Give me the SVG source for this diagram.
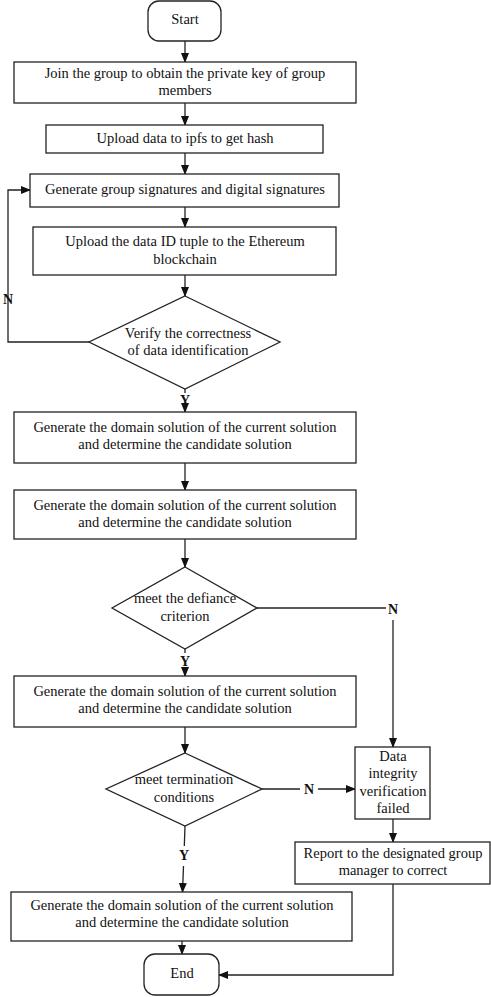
<svg xmlns="http://www.w3.org/2000/svg" width="491" height="997" viewBox="0 0 491 997">
<style>
.n{fill:#fff;stroke:#222;stroke-width:1.3}
.c{fill:none;stroke:#222;stroke-width:1.3}
text{font-family:'Liberation Serif','DejaVu Serif',serif;font-size:14.5px;fill:#111;text-anchor:middle}
.lb{font-weight:bold;font-size:14px}
</style>
<defs>
<marker id="a" markerWidth="10" markerHeight="8" refX="9" refY="4" orient="auto" markerUnits="userSpaceOnUse">
<path d="M0,0 L10,4 L0,8 z" fill="#111"/>
</marker>
</defs>
<rect width="491" height="997" fill="#fff"/>
<g id="connectors">
<path class="c" d="M185,41 V62" marker-end="url(#a)"/>
<path class="c" d="M185,103 V125" marker-end="url(#a)"/>
<path class="c" d="M185,153 V174" marker-end="url(#a)"/>
<path class="c" d="M185,207 V227" marker-end="url(#a)"/>
<path class="c" d="M185,275 V296" marker-end="url(#a)"/>
<path class="c" d="M89,342 H8 V190 H30" marker-end="url(#a)"/>
<path class="c" d="M185,389 V393 M185,407 V412" marker-end="url(#a)"/>
<path class="c" d="M185,463 V490" marker-end="url(#a)"/>
<path class="c" d="M185,539 V567" marker-end="url(#a)"/>
<path class="c" d="M257,608 H386"/>
<path class="c" d="M393,620 V747" marker-end="url(#a)"/>
<path class="c" d="M185,649 V653 M185,670 V676" marker-end="url(#a)"/>
<path class="c" d="M185,727 V753" marker-end="url(#a)"/>
<path class="c" d="M262,789 H300 M318,789 H355" marker-end="url(#a)"/>
<path class="c" d="M393,819 V842" marker-end="url(#a)"/>
<path class="c" d="M393,884 V975 H219" marker-end="url(#a)"/>
<path class="c" d="M185,826 L184.3,846 M183.5,866 L182.5,892" marker-end="url(#a)"/>
<path class="c" d="M182,941 V954" marker-end="url(#a)"/>
<text class="lb" x="8" y="304">N</text>
<text class="lb" x="185" y="405">Y</text>
<text class="lb" x="393" y="614">N</text>
<text class="lb" x="185" y="666">Y</text>
<text class="lb" x="309" y="794">N</text>
<text class="lb" x="184" y="860">Y</text>
</g>
<g id="start"><rect class="n" x="148" y="1" width="73" height="40" rx="11"/><text x="185" y="24">Start</text></g>
<g id="join"><rect class="n" x="14" y="62" width="342" height="41"/><text x="185" y="78">Join the group to obtain the private key of group</text><text x="185" y="95">members</text></g>
<g id="upload"><rect class="n" x="46" y="125" width="277" height="28"/><text x="185" y="143">Upload data to ipfs to get hash</text></g>
<g id="gensig"><rect class="n" x="30" y="174" width="309" height="33"/><text x="185" y="194">Generate group signatures and digital signatures</text></g>
<g id="uploadid"><rect class="n" x="33" y="227" width="303" height="48"/><text x="185" y="246">Upload the data ID tuple to the Ethereum</text><text x="185" y="264">blockchain</text></g>
<g id="verify"><path class="n" d="M185,296 L280,342 L185,389 L89,342 Z"/><text x="188" y="338">Verify the correctness</text><text x="188" y="355">of data identification</text></g>
<g id="gen1"><rect class="n" x="14" y="412" width="342" height="51"/><text x="185" y="432">Generate the domain solution of the current solution</text><text x="185" y="449">and determine the candidate solution</text></g>
<g id="gen2"><rect class="n" x="14" y="490" width="342" height="49"/><text x="185" y="510">Generate the domain solution of the current solution</text><text x="185" y="527">and determine the candidate solution</text></g>
<g id="defiance"><path class="n" d="M185,567 L257,608 L185,649 L112,608 Z"/><text x="185" y="603">meet the defiance</text><text x="185" y="621">criterion</text></g>
<g id="gen3"><rect class="n" x="14" y="676" width="342" height="51"/><text x="185" y="696">Generate the domain solution of the current solution</text><text x="185" y="713">and determine the candidate solution</text></g>
<g id="termination"><path class="n" d="M185,753 L262,789 L185,826 L106,789 Z"/><text x="184" y="784">meet termination</text><text x="184" y="802">conditions</text></g>
<g id="failed"><rect class="n" x="355" y="747" width="75" height="72"/><text x="393" y="761">Data</text><text x="393" y="778">integrity</text><text x="393" y="796">verification</text><text x="393" y="813">failed</text></g>
<g id="report"><rect class="n" x="295" y="842" width="195" height="42"/><text x="393" y="858">Report to the designated group</text><text x="393" y="875">manager to correct</text></g>
<g id="gen4"><rect class="n" x="11" y="892" width="341" height="49"/><text x="182" y="910">Generate the domain solution of the current solution</text><text x="182" y="927">and determine the candidate solution</text></g>
<g id="end"><rect class="n" x="144" y="954" width="75" height="41" rx="11"/><text x="182" y="978">End</text></g>
</svg>
